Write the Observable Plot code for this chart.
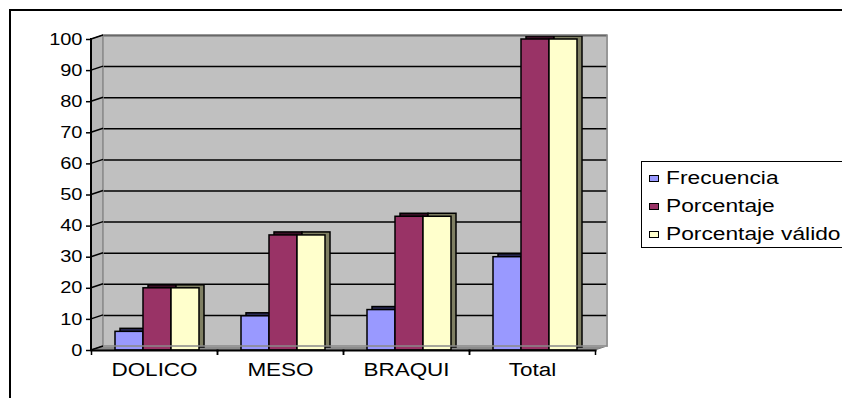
<!DOCTYPE html>
<html><head><meta charset="utf-8">
<script src="https://cdn.jsdelivr.net/npm/d3@7"></script>
<script src="https://cdn.jsdelivr.net/npm/@observablehq/plot@0.6"></script>
<style>
html,body{margin:0;padding:0;background:#fff;overflow:hidden}
#wrap{position:relative;width:842px;height:398px;overflow:hidden;font-family:"Liberation Sans",Arial,sans-serif}
#border{position:absolute;left:9px;top:9px;width:900px;height:500px;border:2px solid #000}
#chart{position:absolute;left:0;top:0}
#legend{position:absolute;left:641px;top:161px;width:260px;height:85px;border:1px solid #000;background:#fff}
.item{position:absolute;left:7px;height:20px;display:flex;align-items:center;font-size:17.5px;color:#000;white-space:nowrap}
.sw{width:8px;height:5px;border:1.5px solid #000;margin-right:7px;flex:none}
.lab{display:inline-block;transform:scaleX(1.3);transform-origin:left center}
</style></head>
<body>
<div id="wrap">
  <div id="border"></div>
  <div id="chart"></div>
  <div id="legend"></div>
</div>
<script>
const categories = ["DOLICO", "MESO", "BRAQUI", "Total"];
const series = ["Frecuencia", "Porcentaje", "Porcentaje válido"];
const frecuencia = [6, 11, 13, 30];
const porcentaje = [20, 37, 43, 100];
const porcentajeValido = [20, 37, 43, 100];
const yTicks = [0, 10, 20, 30, 40, 50, 60, 70, 80, 90, 100];
const colors = ["#9999FF", "#993366", "#FFFFCC"];
const depthColors = ["#2a2a55", "#3a1026", "#7f7f63"];

const valuesBySeries = [frecuencia, porcentaje, porcentajeValido];
const data = categories.flatMap((c, i) =>
  series.map((s, j) => ({cat: c, serie: s, value: valuesBySeries[j][i]})));

const DX = 12, DY = -4;      // wall depth
const BDX = 5, BDY = -3;     // bar depth

const depthMarks = series.map((s, j) =>
  Plot.barY(data.filter(d => d.serie === s), {
    fx: "cat", x: "serie", y: "value", fill: depthColors[j],
    stroke: "#000", strokeWidth: 1.5, dx: BDX, dy: BDY
  }));

const plot = Plot.plot({
  width: 842, height: 398,
  marginLeft: 91, marginRight: 247, marginTop: 39, marginBottom: 48,
  style: {fontFamily: "'Liberation Sans', Arial, sans-serif", background: "transparent", overflow: "visible", color: "#000"},
  fx: {domain: categories, paddingInner: 0, paddingOuter: 0, label: null},
  x: {domain: series, paddingInner: 0, paddingOuter: 0.75, align: 0.571, axis: null},
  y: {domain: [0, 100], label: null},
  color: {domain: series, range: colors},
  marks: [
    Plot.frame({fill: "#c0c0c0", stroke: "#c0c0c0", strokeWidth: 1, dx: DX, dy: DY}),
    Plot.ruleY(yTicks.slice(1), {stroke: "#000", strokeWidth: 1.5, dx: DX, dy: DY}),
    ...depthMarks,
    Plot.barY(data, {fx: "cat", x: "serie", y: "value", fill: "serie", stroke: "#000", strokeWidth: 1.5}),
    Plot.frame({anchor: "bottom", stroke: "#000", strokeWidth: 2}),
    Plot.axisY({ticks: yTicks, tickSize: 5, tickPadding: 4, fontSize: 16, strokeWidth: 1.5, label: null}),
    Plot.axisFx({anchor: "bottom", tickSize: 0, tickPadding: 13, fontSize: 18, label: null}),
    Plot.axisFx({anchor: "bottom", tickSize: 5, tickFormat: null, dx: -63, strokeWidth: 1.5, label: null}),
    Plot.axisFx({anchor: "bottom", tickSize: 5, tickFormat: null, dx: 63, strokeWidth: 1.5, label: null})
  ]
});

// 3D decorations derived from the y scale
const ys = plot.scale("y");
const y0 = ys.apply(0), y1 = ys.apply(100);
const xL = 91, xR = 842 - 247;
const ns = "http://www.w3.org/2000/svg";
function add(tag, attrs, parent) {
  const el = document.createElementNS(ns, tag);
  for (const k in attrs) el.setAttribute(k, attrs[k]);
  parent.appendChild(el);
  return el;
}
const svg = plot;
const deco = document.createElementNS(ns, "g");
add("polygon", {points: `${xL},${y0} ${xL+DX},${y0+DY} ${xL+DX},${y1+DY} ${xL},${y1}`, fill: "#b8b8b8", stroke: "#808080", "stroke-width": 1}, deco);
add("polygon", {points: `${xL},${y0} ${xR},${y0} ${xR+DX},${y0+DY} ${xL+DX},${y0+DY}`, fill: "#8c8c8c", stroke: "#808080", "stroke-width": 1}, deco);
svg.insertBefore(deco, svg.firstChild.nextSibling);
const over = document.createElementNS(ns, "g");
add("rect", {x: xL + DX, y: y1 + DY, width: xR - xL, height: y0 - y1, fill: "none", stroke: "#8a8a8a", "stroke-width": 1.5}, over);
for (const t of yTicks) {
  const yy = ys.apply(t);
  add("line", {x1: xL, y1: yy, x2: xL + DX, y2: yy + DY, stroke: "#000", "stroke-width": 1.5}, over);
}
svg.appendChild(over);
add("line", {x1: xL, y1: y0 + 1, x2: xL, y2: y1 - 1, stroke: "#000", "stroke-width": 2}, svg);

svg.querySelectorAll("text").forEach(t => {
  const tr = t.getAttribute("transform");
  if (tr) t.setAttribute("transform", tr + " scale(1.25,1)");
  else {
    const x = +t.getAttribute("x") || 0, y = +t.getAttribute("y") || 0;
    t.removeAttribute("x"); t.removeAttribute("y");
    t.setAttribute("transform", `translate(${x},${y}) scale(1.25,1)`);
  }
});
document.getElementById("chart").appendChild(plot);

const legend = document.getElementById("legend");
series.forEach((s, j) => {
  const it = document.createElement("div");
  it.className = "item";
  it.style.top = (6 + j * 28) + "px";
  const sw = document.createElement("span");
  sw.className = "sw"; sw.style.background = colors[j];
  const lab = document.createElement("span");
  lab.className = "lab"; lab.textContent = s;
  it.appendChild(sw); it.appendChild(lab);
  legend.appendChild(it);
});
</script>
</body></html>
